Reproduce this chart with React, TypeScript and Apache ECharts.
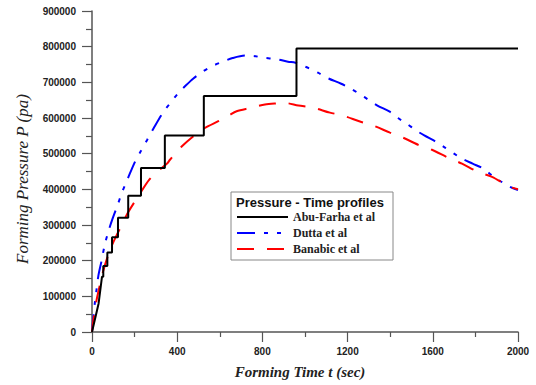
import React, { useEffect, useRef } from "react";
import * as echarts from "echarts";

// Abu-Farha et al: initial ramp then stepped pressure levels
const abuRampTimes = [0, 31, 47];
const abuRampPressures = [0, 80000, 155000];
const abuStepTimes = [53, 72, 94, 122, 170, 230, 342, 525, 960];
const abuStepLevels = [185000, 223000, 266000, 320000, 382000, 460000, 551000, 662000, 795000];
const abuEndTime = 2000;

// Dutta et al
const duttaTimes = [0, 6, 14, 22, 30, 45, 60, 77, 95, 121, 140, 168, 200, 230, 260, 290, 330, 366, 400, 440, 476, 520, 562, 610, 660, 720, 760, 804, 866, 920, 955, 980, 1020, 1061, 1110, 1170, 1221, 1260, 1296, 1340, 1400, 1437, 1480, 1517, 1560, 1610, 1657, 1700, 1737, 1787, 1838, 1878, 1920, 1962, 2000];
const duttaPressures = [0, 40000, 85000, 122000, 158000, 200000, 245000, 282000, 315000, 357000, 390000, 430000, 475000, 508000, 540000, 572000, 612000, 641000, 666000, 691000, 711000, 730000, 745000, 757000, 768000, 775000, 774000, 769000, 765000, 758000, 755000, 749000, 739000, 727000, 711000, 696000, 680000, 666000, 652000, 635000, 617000, 600000, 583000, 567000, 551000, 535000, 517000, 500000, 486000, 472000, 458000, 439000, 422000, 407000, 398000];

// Banabic et al
const banabicTimes = [0, 8, 20, 34, 50, 70, 90, 113, 144, 167, 222, 269, 312, 355, 366, 421, 476, 530, 593, 640, 679, 742, 812, 870, 906, 969, 1038, 1117, 1178, 1258, 1319, 1399, 1460, 1531, 1596, 1671, 1737, 1812, 1878, 1962, 2000];
const banabicPressures = [0, 40000, 85000, 124000, 165000, 205000, 238000, 268000, 305000, 333000, 385000, 427000, 452000, 474000, 483000, 520000, 549000, 572000, 591000, 606000, 619000, 628000, 638000, 641000, 642000, 635000, 629000, 615000, 607000, 590000, 579000, 559000, 545000, 525000, 511000, 489000, 472000, 449000, 435000, 407000, 400000];

const seriesNames = ["Abu-Farha et al", "Dutta et al", "Banabic et al"];
const legendTitle = "Pressure - Time profiles";
const xAxisName = "Forming Time t (sec)";
const yAxisName = "Forming Pressure P (pa)";

function buildAbu(): number[][] {
  const pts: number[][] = abuRampTimes.map((t, i) => [t, abuRampPressures[i]]);
  let level = abuRampPressures[abuRampPressures.length - 1];
  abuStepTimes.forEach((t, i) => {
    pts.push([t, level]);
    level = abuStepLevels[i];
    pts.push([t, level]);
  });
  pts.push([abuEndTime, level]);
  return pts;
}

const zip = (a: number[], b: number[]) => a.map((v, i) => [v, b[i]]);

export default function App() {
  const ref = useRef<HTMLDivElement>(null);
  useEffect(() => {
    if (!ref.current) return;
    const chart = echarts.init(ref.current, null, { renderer: "svg" });
    const axisColor = "#555";
    const labelStyle = {
      fontFamily: "Liberation Sans, Arial, sans-serif",
      fontWeight: "bold" as const,
      fontSize: 10,
      color: "#222",
      formatter: (v: number) => String(v),
    };
    chart.setOption({
      animation: false,
      backgroundColor: "#fff",
      grid: { left: 92, right: 18, top: 11, bottom: 53, containLabel: false },
      xAxis: {
        type: "value",
        min: 0,
        max: 2000,
        interval: 400,
        name: xAxisName,
        nameLocation: "middle",
        nameGap: 32,
        nameTextStyle: {
          fontFamily: "Liberation Serif, Times New Roman, serif",
          fontWeight: "bold",
          fontStyle: "italic",
          fontSize: 15,
          color: "#222",
          padding: [0, 10, 0, 0],
        },
        axisLine: { show: true, lineStyle: { color: axisColor, width: 1.5 } },
        axisTick: { show: true, length: 10, lineStyle: { color: axisColor, width: 1.2 } },
        minorTick: { show: true, splitNumber: 2, length: 5, lineStyle: { color: axisColor, width: 1.2 } },
        splitLine: { show: false },
        axisLabel: { ...labelStyle, margin: 14 },
      },
      yAxis: {
        type: "value",
        min: 0,
        max: 900000,
        interval: 100000,
        name: yAxisName,
        nameLocation: "middle",
        nameGap: 61,
        nameTextStyle: {
          fontFamily: "Liberation Serif, Times New Roman, serif",
          fontStyle: "italic",
          fontSize: 17,
          color: "#222",
          padding: [0, 15, 0, 0],
        },
        axisLine: { show: true, lineStyle: { color: axisColor, width: 1.5 } },
        axisTick: { show: true, length: 10, lineStyle: { color: axisColor, width: 1.2 } },
        minorTick: { show: true, splitNumber: 2, length: 6, lineStyle: { color: axisColor, width: 1.2 } },
        splitLine: { show: false },
        axisLabel: { ...labelStyle, margin: 16 },
      },
      legend: {
        orient: "vertical",
        left: 231,
        top: 211,
        padding: [0, 0, 0, 5],
        itemWidth: 51,
        itemHeight: 12,
        itemGap: 4,
        selectedMode: false,
        z: 20,
        itemStyle: { opacity: 0 },
        textStyle: {
          fontFamily: "Liberation Serif, Times New Roman, serif",
          fontWeight: "bold",
          fontSize: 12,
          color: "#222",
        },
        data: seriesNames,
      },
      graphic: [
        {
          type: "rect",
          shape: { x: 231, y: 192, width: 162, height: 68 },
          style: { fill: "#fff", stroke: "#888", lineWidth: 1 },
          z: 10,
        },
        {
          type: "text",
          x: 236,
          y: 196,
          style: {
            text: legendTitle,
            fontFamily: "Liberation Sans, Arial, sans-serif",
            fontWeight: "bold",
            fontSize: 13,
            fill: "#111",
          },
          z: 11,
        },
      ],
      series: [
        {
          name: seriesNames[0],
          type: "line",
          data: buildAbu(),
          showSymbol: false,
          symbol: "none",
          lineStyle: { color: "#000", width: 2 },
          itemStyle: { color: "#000" },
          z: 3,
        },
        {
          name: seriesNames[1],
          type: "line",
          data: zip(duttaTimes, duttaPressures),
          showSymbol: false,
          symbol: "none",
          smooth: 0.3,
          lineStyle: { color: "#0000ff", width: 2, type: [18, 9, 4, 9, 4, 9] },
          itemStyle: { color: "#0000ff" },
          z: 2,
        },
        {
          name: seriesNames[2],
          type: "line",
          data: zip(banabicTimes, banabicPressures),
          showSymbol: false,
          symbol: "none",
          smooth: 0.3,
          lineStyle: { color: "#ff0000", width: 2, type: [17, 13] },
          itemStyle: { color: "#ff0000" },
          z: 2,
        },
      ],
    });
    return () => chart.dispose();
  }, []);
  return (
    <div
      ref={ref}
      style={{ position: "fixed", left: 0, top: 0, width: 536, height: 385 }}
    />
  );
}
